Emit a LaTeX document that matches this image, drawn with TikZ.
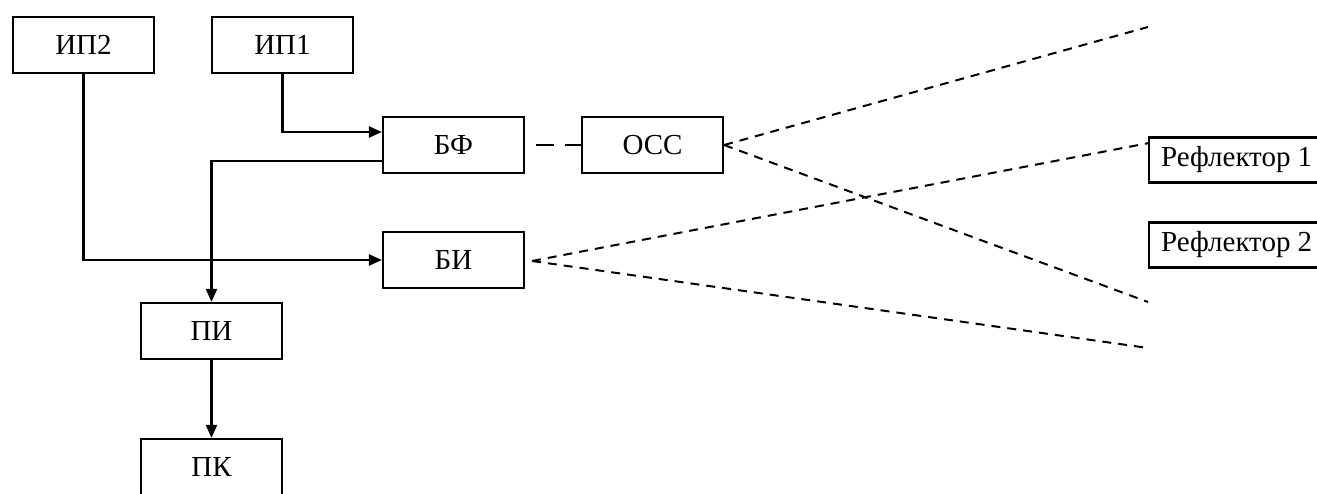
\documentclass[tikz,border=0pt]{standalone}
\usepackage{fontspec}
\setmainfont{Liberation Serif}
\usetikzlibrary{arrows.meta}
\begin{document}
\begin{tikzpicture}[x=1pt, y=-1pt]
        \tikzstyle{block}=[draw, rectangle, line width=2.2pt,
            minimum width=141pt, minimum height=56pt, inner sep=0pt,
            font=\fontsize{29}{34}\selectfont]
        \tikzstyle{refl}=[draw, rectangle, line width=2.2pt, anchor=west,
            inner xsep=12pt, inner ysep=0pt, minimum height=45pt,
            font=\fontsize{29}{34}\selectfont]
        \tikzstyle{link}=[line width=2.2pt, -{Triangle[length=13pt, width=11pt]}]
        \tikzstyle{ray}=[line width=2pt, dash pattern=on 9pt off 7pt]
        \useasboundingbox (0,0) rectangle (1317,493);

        \node[block] (IP2) at (83.5, 45) {ИП2};
        \node[block] (IP1) at (282.5, 45) {ИП1};
        \node[block] (BF) at (453.5, 145) {БФ};
        \node[block] (OSS) at (652.5, 145) {ОСС};
        \node[block] (BI) at (453.5, 260) {БИ};
        \node[block] (PI) at (211.5, 331) {ПИ};
        \node[block] (PK) at (211.5, 467) {ПК};
        \node[refl] (R1) at (1148, 160) {Рефлектор 1};
        \node[refl] (R2) at (1148, 245) {Рефлектор 2};

        \coordinate (OSSup) at (1148, 27);
        \coordinate (OSSdown) at (1148, 302);
        \coordinate (BIout) at (532, 261);
        \coordinate (BIup) at (1149, 143);
        \coordinate (BIdown) at (1148, 348);

        \draw[link] (IP1.south) |- ([yshift=13pt]BF.west);
        \draw[link] ([yshift=-16pt]BF.west) -| (PI.north);
        \draw[link] (IP2.south) |- (BI.west);
        \draw[link] (PI) to (PK);
        \draw[line width=2.2pt, dash pattern=on 0pt off 11pt on 18pt off 11pt on 18pt]
            (BF.east) to (OSS.west);

        \draw[ray] (OSS.east) to (OSSup);
        \draw[ray] (OSS.east) to (OSSdown);
        \draw[ray] (BIout) to (BIup);
        \draw[ray] (BIout) to (BIdown);

    \end{tikzpicture}
\end{document}
